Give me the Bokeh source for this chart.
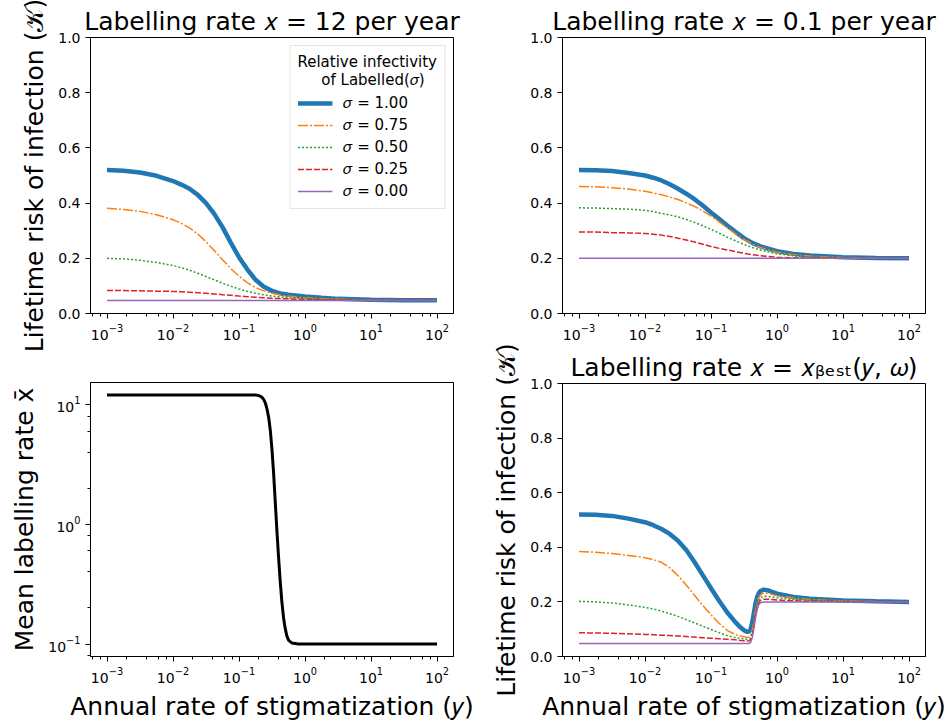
from bokeh.plotting import figure
from bokeh.layouts import row, column
from bokeh.models import (Range1d, Title, Legend, LegendItem, FixedTicker,
                          NumeralTickFormatter, LogTicker, LogTickFormatter)
from bokeh.embed import file_html
from bokeh.resources import INLINE

FONT = "DejaVu Sans"

# ---------------- data ----------------
sigma_labels = ["𝜎 = 1.00", "𝜎 = 0.75", "𝜎 = 0.50", "𝜎 = 0.25", "𝜎 = 0.00"]

# annual rate of stigmatization (y): sample points given as log10(y)
log_stig_top = [-3, -2.75, -2.5, -2.25, -2, -1.875, -1.75, -1.625, -1.5, -1.375,
                -1.25, -1.125, -1, -0.875, -0.75, -0.625, -0.5, -0.375, -0.25,
                0, 0.25, 0.5, 1, 1.5, 2]
stig_top = [10 ** k for k in log_stig_top]

# Top-left: labelling rate x = 12 per year
risk_x12 = [
    [0.520, 0.517, 0.511, 0.499, 0.480, 0.467, 0.452, 0.430, 0.400, 0.361, 0.313, 0.257, 0.204,
     0.160, 0.122, 0.097, 0.082, 0.073, 0.068, 0.062, 0.057, 0.053, 0.050, 0.048, 0.048],
    [0.381, 0.377, 0.370, 0.358, 0.340, 0.327, 0.310, 0.288, 0.260, 0.228, 0.195, 0.163, 0.135,
     0.112, 0.094, 0.082, 0.073, 0.067, 0.063, 0.057, 0.054, 0.052, 0.049, 0.048, 0.048],
    [0.200, 0.198, 0.193, 0.185, 0.174, 0.166, 0.157, 0.146, 0.134, 0.122, 0.110, 0.099, 0.089,
     0.080, 0.073, 0.068, 0.063, 0.060, 0.057, 0.054, 0.052, 0.050, 0.049, 0.048, 0.048],
    [0.083, 0.083, 0.082, 0.081, 0.080, 0.079, 0.077, 0.075, 0.073, 0.071, 0.068, 0.066, 0.063,
     0.061, 0.059, 0.057, 0.055, 0.054, 0.053, 0.051, 0.050, 0.049, 0.048, 0.048, 0.048],
    [0.047] * 25,
]

# Top-right: labelling rate x = 0.1 per year
risk_x01 = [
    [0.520, 0.519, 0.516, 0.509, 0.500, 0.492, 0.482, 0.468, 0.452, 0.434, 0.414, 0.391, 0.366,
     0.342, 0.318, 0.295, 0.273, 0.256, 0.243, 0.226, 0.216, 0.210, 0.204, 0.201, 0.200],
    [0.460, 0.459, 0.456, 0.451, 0.443, 0.437, 0.430, 0.422, 0.413, 0.401, 0.388, 0.372, 0.353,
     0.332, 0.310, 0.288, 0.268, 0.252, 0.239, 0.222, 0.213, 0.208, 0.203, 0.201, 0.200],
    [0.383, 0.382, 0.380, 0.378, 0.374, 0.369, 0.363, 0.357, 0.350, 0.341, 0.330, 0.318, 0.305,
     0.291, 0.276, 0.263, 0.250, 0.239, 0.230, 0.216, 0.209, 0.205, 0.202, 0.201, 0.200],
    [0.295, 0.295, 0.293, 0.292, 0.290, 0.287, 0.284, 0.279, 0.273, 0.266, 0.259, 0.251, 0.243,
     0.236, 0.230, 0.224, 0.218, 0.213, 0.209, 0.204, 0.202, 0.201, 0.200, 0.200, 0.200],
    [0.200] * 25,
]

# bottom-right sample points (log10 y)
log_stig_bot = [-3, -2.75, -2.5, -2.25, -2, -1.875, -1.75, -1.625, -1.5, -1.375, -1.25,
                -1.125, -1, -0.875, -0.75, -0.625, -0.55, -0.5, -0.45, -0.42, -0.4,
                -0.375, -0.35, -0.325, -0.3, -0.275, -0.25, -0.2, -0.15, -0.1, 0,
                0.25, 0.5, 1, 1.5, 2]
stig_bot = [10 ** k for k in log_stig_bot]

# Bottom-right: labelling rate x = x_best(y, omega)
risk_best = [
    [0.520, 0.519, 0.515, 0.505, 0.492, 0.481, 0.467, 0.449, 0.424, 0.390, 0.346, 0.298,
     0.250, 0.203, 0.160, 0.124, 0.106, 0.096, 0.090, 0.092, 0.100, 0.125, 0.160, 0.195,
     0.218, 0.232, 0.240, 0.245, 0.243, 0.239, 0.230, 0.218, 0.212, 0.205, 0.202, 0.200],
    [0.385, 0.382, 0.377, 0.370, 0.362, 0.355, 0.345, 0.325, 0.296, 0.262, 0.224, 0.187,
     0.153, 0.121, 0.095, 0.080, 0.075, 0.072, 0.070, 0.071, 0.076, 0.095, 0.130, 0.170,
     0.200, 0.217, 0.226, 0.233, 0.232, 0.229, 0.223, 0.214, 0.209, 0.204, 0.201, 0.200],
    [0.202, 0.200, 0.196, 0.189, 0.180, 0.174, 0.166, 0.157, 0.147, 0.135, 0.123, 0.111,
     0.099, 0.087, 0.076, 0.069, 0.066, 0.064, 0.062, 0.063, 0.067, 0.085, 0.118, 0.158,
     0.188, 0.206, 0.215, 0.221, 0.221, 0.219, 0.215, 0.209, 0.206, 0.203, 0.201, 0.200],
    [0.087, 0.086, 0.085, 0.083, 0.081, 0.080, 0.078, 0.077, 0.075, 0.073, 0.071, 0.069,
     0.067, 0.065, 0.063, 0.061, 0.059, 0.058, 0.057, 0.058, 0.062, 0.080, 0.112, 0.152,
     0.182, 0.198, 0.206, 0.210, 0.210, 0.209, 0.207, 0.204, 0.202, 0.201, 0.200, 0.200],
    [0.048, 0.048, 0.048, 0.048, 0.048, 0.048, 0.048, 0.048, 0.048, 0.048, 0.048, 0.048,
     0.048, 0.048, 0.048, 0.048, 0.048, 0.048, 0.048, 0.048, 0.052, 0.070, 0.102, 0.142,
     0.172, 0.190, 0.197, 0.200, 0.200, 0.200, 0.200, 0.200, 0.200, 0.200, 0.200, 0.200],
]

# Bottom-left: mean labelling rate x-bar
log_stig_mean = [-3, -2, -1, -0.8, -0.75, -0.7, -0.675, -0.65, -0.625, -0.6, -0.575, -0.55,
                 -0.525, -0.5, -0.475, -0.45, -0.425, -0.4, -0.375, -0.35, -0.325, -0.3,
                 -0.275, -0.25, -0.2, -0.1, 0, 1, 2]
stig_mean = [10 ** k for k in log_stig_mean]
mean_label_rate = [12.0, 12.0, 12.0, 12.0, 11.97, 11.86, 11.7, 11.43, 10.96, 10.23, 9.12, 7.76,
                   6.03, 4.17, 2.63, 1.51, 0.871, 0.525, 0.331, 0.224, 0.166, 0.135,
                   0.117, 0.108, 0.102, 0.100, 0.100, 0.100, 0.100]

y_ticks_lin = [0.0, 0.2, 0.4, 0.6, 0.8, 1.0]

titles = ["Labelling rate 𝑥 = 12 per year",
          "Labelling rate 𝑥 = 0.1 per year",
          "Labelling rate 𝑥 = 𝑥ᵦₑₛₜ(𝑦, 𝜔)"]

# ---------------- styles ----------------
colors = ["#1f77b4", "#ff7f0e", "#2ca02c", "#d62728", "#9467bd"]
widths = [4.5, 1.5, 1.5, 1.5, 1.5]
dashes = ["solid", "10 2 2 2", "2 2", "6 2", "solid"]

XR = (10 ** -3.25, 10 ** 2.25)


def make_fig(w, h, bl, br, bt, bb, ylog=False, yr=(0.0, 1.0), title_text=None):
    p = figure(width=w, height=h, x_axis_type="log",
               y_axis_type="log" if ylog else "linear",
               x_range=Range1d(*XR), y_range=Range1d(*yr),
               output_backend="svg", toolbar_location=None,
               min_border_left=bl, min_border_right=br,
               min_border_top=bt, min_border_bottom=bb)
    if title_text is not None:
        p.title = Title(text=title_text, align="center", text_font=FONT,
                        text_font_size="25px", text_font_style="normal",
                        text_color="black", standoff=3, offset=0)
    p.grid.visible = False
    p.outline_line_color = "black"
    p.outline_line_alpha = 1.0
    p.outline_line_width = 1
    p.background_fill_color = "white"
    p.border_fill_color = "white"
    for ax in p.axis:
        ax.axis_line_color = "black"
        ax.major_tick_line_color = "black"
        ax.minor_tick_line_color = "black"
        ax.major_tick_out = 5
        ax.major_tick_in = 0
        ax.minor_tick_out = 3
        ax.minor_tick_in = 0
        ax.major_label_text_font = FONT
        ax.major_label_text_font_size = "14px"
        ax.major_label_text_color = "black"
        ax.major_label_standoff = 5
        ax.axis_label_text_font = FONT
        ax.axis_label_text_font_size = "25px"
        ax.axis_label_text_font_style = "normal"
        ax.axis_label_text_color = "black"
        ax.axis_label_standoff = 6
    p.xaxis.ticker = LogTicker()
    p.xaxis.formatter = LogTickFormatter()
    if not ylog:
        p.yaxis.ticker = FixedTicker(ticks=y_ticks_lin, minor_ticks=[])
        p.yaxis.formatter = NumeralTickFormatter(format="0.0")
    return p


def draw_family(p, xs, fam):
    rends = []
    for vals, c, lw, d in zip(fam, colors, widths, dashes):
        r = p.line(xs, vals, line_color=c, line_width=lw, line_dash=d)
        rends.append(r)
    return rends


# ---------------- top-left ----------------
p1 = make_fig(473, 352, 90, 20, 37, 39, title_text=titles[0])
r1 = draw_family(p1, stig_top, risk_x12)
p1.yaxis.axis_label = "Lifetime risk of infection (𝒦)"
legend = Legend(items=[LegendItem(label=l, renderers=[r]) for l, r in zip(sigma_labels, r1)],
                location="top_right",
                title="Relative infectivity\n\u00a0\u00a0\u00a0\u00a0\u00a0of Labelled(𝜎)",
                title_text_font=FONT, title_text_font_size="15px",
                title_text_font_style="normal", title_text_color="black",
                title_standoff=4,
                label_text_font=FONT, label_text_font_size="15px", label_text_color="black",
                glyph_width=35, glyph_height=20, label_height=20, spacing=2,
                label_standoff=11, padding=7, margin=8,
                border_line_color="#cccccc", border_line_width=1,
                background_fill_color="white", background_fill_alpha=0.8)
p1.add_layout(legend)

# ---------------- top-right ----------------
p2 = make_fig(474, 343, 89, 22, 37, 30, title_text=titles[1])
draw_family(p2, stig_top, risk_x01)

# ---------------- bottom-left ----------------
p3 = make_fig(473, 371, 90, 20, 30, 64, ylog=True,
              yr=(10 ** -1.104, 10 ** 1.183))
p3.yaxis.ticker = LogTicker()
p3.yaxis.formatter = LogTickFormatter()
p3.line(stig_mean, mean_label_rate, line_color="black", line_width=3)
p3.yaxis.axis_label = "Mean labelling rate x\u0304"
p3.xaxis.axis_label = "Annual rate of stigmatization (𝑦)"

# ---------------- bottom-right ----------------
p4 = make_fig(474, 380, 89, 22, 40, 64, title_text=titles[2])
draw_family(p4, stig_bot, risk_best)
p4.yaxis.axis_label = "Lifetime risk of infection (𝒦)"
p4.xaxis.axis_label = "Annual rate of stigmatization (𝑦)"

layout = row(column(p1, p3), column(p2, p4))
open("out.html", "w").write(file_html(layout, INLINE))
